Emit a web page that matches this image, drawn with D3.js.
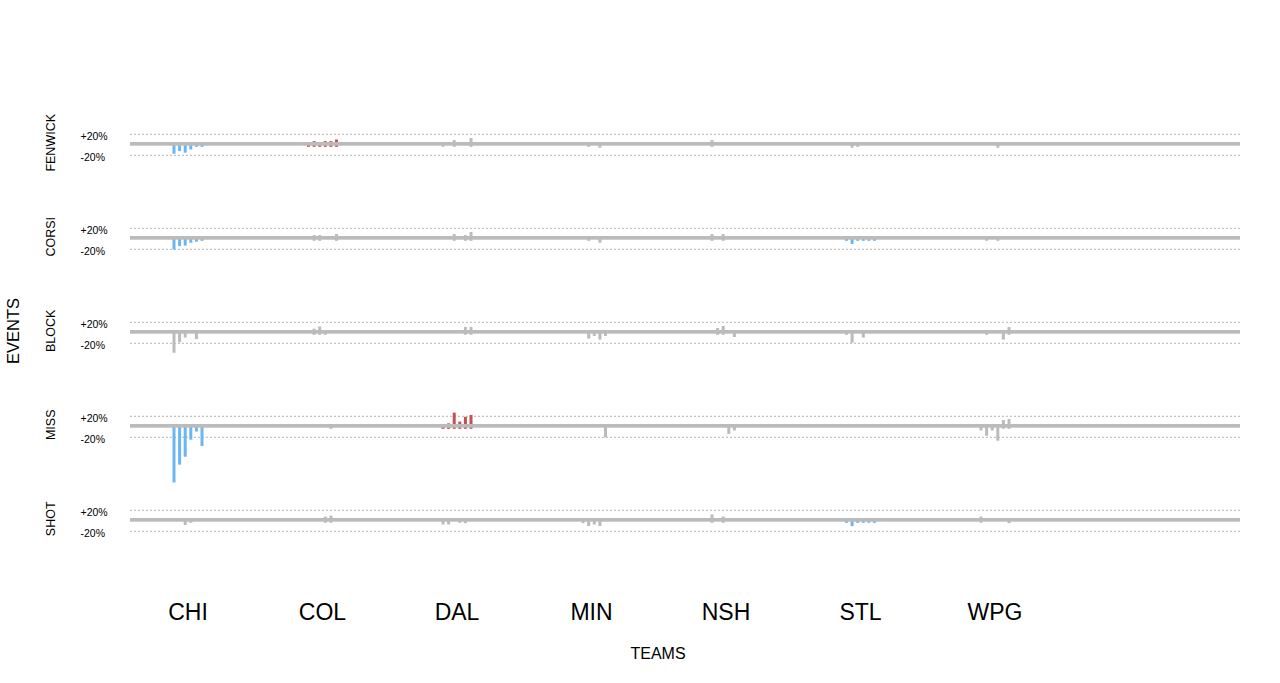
<!DOCTYPE html>
<html><head><meta charset="utf-8">
<script src="https://cdn.jsdelivr.net/npm/d3@7"></script>
<style>html,body{margin:0;padding:0;background:#fff;}svg{display:block;}</style>
</head><body><svg id="chart" width="1280" height="683"></svg>
<script>
const events = ["FENWICK","CORSI","BLOCK","MISS","SHOT"];
const teams = ["CHI","COL","DAL","MIN","NSH","STL","WPG"];
const tickLabels = ["+20%","-20%"];
const tickValues = [20,-20];

// six values per team (percent change), null = no bar
const fenwick = [
  [-17,-12,-15,-9,-2,-2],
  [-2,7,-2,7,7,10],
  [-3.5,null,9,null,null,13],
  [null,null,-3.5,null,-5.5,null],
  [9,null,null,null,null,null],
  [null,-5.5,-3.5,null,null,null],
  [null,null,null,-5.5,null,null]
];
const corsi = [
  [-20.5,-14,-13,-7.5,-5.5,-2],
  [null,7,7,null,null,9],
  [null,null,9,null,7,13],
  [null,null,-3.5,null,-7.5,null],
  [9,null,9,null,null,null],
  [-1,-10,-3.5,-1,-1,-1],
  [null,-3.5,null,-3.5,null,null]
];
const block = [
  [-38,-18,-9,null,-12,null],
  [null,8,12,-2,null,null],
  [null,null,null,null,11,11],
  [null,null,-11,-6,-13,-6],
  [null,9,13,null,-8,null],
  [-2,-19,null,-9,null,null],
  [null,-2,null,null,-13,11]
];
const miss = [
  [-106,-72,-57,-24.5,-9,-36.5],
  [null,null,null,null,-2,null],
  [0,6.5,27,10,19,22.5],
  [null,null,null,null,null,-20],
  [null,null,null,-13.5,-7,null],
  [null,null,null,null,null,null],
  [-7,-17,-7,-26.5,13,15]
];
const shot = [
  [null,null,-8,-2.5,null,null],
  [null,null,null,8,10,null],
  [-7,-7,null,-2.5,-4.5,null],
  [null,-4.5,-10,-7,-10,null],
  [12,null,8,null,null,null],
  [-1,-10,-2.5,-1,-1,-2.5],
  [8,null,null,null,null,-4.5]
];
// significance flag per event per team: 0 none, -1 low (blue), 1 high (red)
const flagFenwick = [-1,1,0,0,0,0,0];
const flagCorsi   = [-1,0,0,0,0,-1,0];
const flagBlock   = [0,0,0,0,0,0,0];
const flagMiss    = [-1,0,1,0,0,0,0];
const flagShot    = [0,0,0,0,0,-1,0];

const seriesValues = [fenwick, corsi, block, miss, shot];
const seriesFlags = [flagFenwick, flagCorsi, flagBlock, flagMiss, flagShot];

const svg = d3.select("#chart");
const font = "'Liberation Sans', Arial, sans-serif";
const colorOf = f => f < 0 ? "#6ab6f2" : (f > 0 ? "#c4504f" : "#bbbbbb");

const xTeam = d3.scalePoint().domain(teams).range([188, 995]);
const xSub = d3.scalePoint().domain(d3.range(6)).range([-14, 14]);
const yRow = d3.scalePoint().domain(events).range([144.8, 520.8]);
const yVal = d3.scaleLinear().domain([-20, 20]).range([10.5, -10.5]);
const xLine = [130, 1240];

events.forEach((ev, ei) => {
  const y0 = yRow(ev);
  const g = svg.append("g");
  tickValues.forEach((tv, ti) => {
    g.append("line")
      .attr("x1", xLine[0]).attr("x2", xLine[1])
      .attr("y1", y0 + yVal(tv)).attr("y2", y0 + yVal(tv))
      .attr("stroke", "#b4b4b4").attr("stroke-width", 1)
      .attr("stroke-dasharray", "2,2");
    g.append("text")
      .attr("x", 80.5).attr("y", y0 + yVal(tv) + (ti === 0 ? 1.5 : 2))
      .attr("dominant-baseline", "central")
      .attr("font-family", font).attr("font-size", 10.5).attr("fill", "#000")
      .text(tickLabels[ti]);
  });
  teams.forEach((t, ti) => {
    const vals = seriesValues[ei][ti];
    const col = colorOf(seriesFlags[ei][ti]);
    vals.forEach((v, j) => {
      if (v === null) return;
      const yv = y0 + yVal(v);
      const top = Math.min(yv, y0 - 1.5);
      const bot = Math.max(yv, y0 + 2);
      g.append("rect")
        .attr("x", xTeam(t) + xSub(j) - 1.5).attr("width", 3)
        .attr("y", top).attr("height", bot - top)
        .attr("fill", col);
    });
  });
  g.append("rect")
    .attr("x", xLine[0]).attr("width", xLine[1] - xLine[0])
    .attr("y", y0 - 2.8).attr("height", 3.7)
    .attr("fill", "#bbbbbb");
  g.append("text")
    .attr("transform", `translate(55,${y0 - 2}) rotate(-90)`)
    .attr("text-anchor", "middle")
    .attr("font-family", font).attr("font-size", 12.5).attr("fill", "#000")
    .text(ev);
});

svg.append("g").selectAll("text").data(teams).join("text")
  .attr("x", d => xTeam(d)).attr("y", 620)
  .attr("text-anchor", "middle")
  .attr("font-family", font).attr("font-size", 23).attr("fill", "#000")
  .text(d => d);

svg.append("text")
  .attr("x", 658).attr("y", 659)
  .attr("text-anchor", "middle")
  .attr("font-family", font).attr("font-size", 16).attr("fill", "#000")
  .text("TEAMS");

svg.append("text")
  .attr("transform", "translate(19,331) rotate(-90)")
  .attr("text-anchor", "middle")
  .attr("font-family", font).attr("font-size", 16.5).attr("fill", "#000")
  .text("EVENTS");
</script></body></html>
